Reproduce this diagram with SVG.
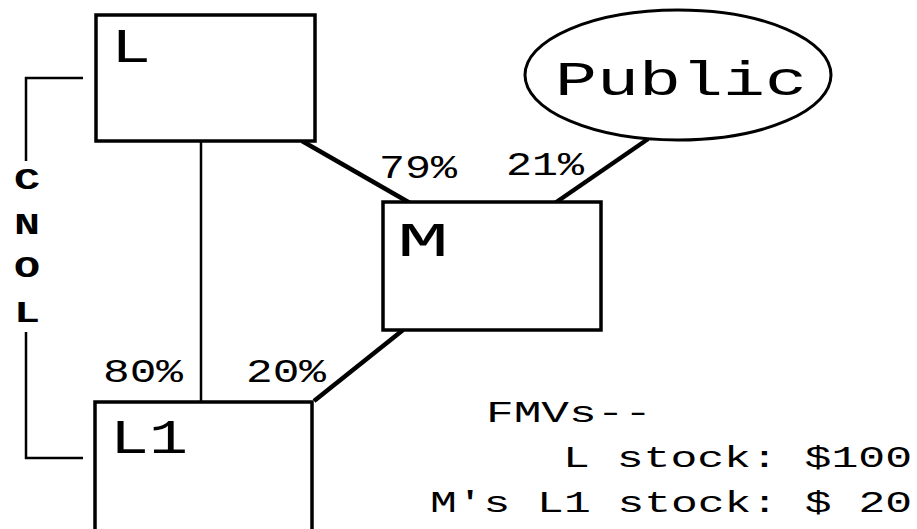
<svg xmlns="http://www.w3.org/2000/svg" width="917" height="529" viewBox="0 0 917 529">
<style>
.box{fill:#fff;stroke:#000;stroke-width:3.5}
.thick{stroke:#000;stroke-width:4.5;fill:none}
.thin{stroke:#000;stroke-width:2.5;fill:none}
.lbl{font-family:"Liberation Mono","DejaVu Sans Mono",monospace;fill:#000}
.big{font-size:48px}
.pct{font-size:33px}
.fmv{font-size:29px}
.side{font-size:30px;font-weight:bold}
</style>
<rect width="917" height="529" fill="#fff"/>
<g id="connectors">
<line class="thin" x1="201" y1="141" x2="201" y2="402"/>
<line class="thick" x1="302" y1="141" x2="410" y2="203"/>
<line class="thick" x1="648" y1="139" x2="555" y2="203"/>
<line class="thick" x1="403" y1="330" x2="314" y2="401"/>
<path class="thin" d="M83 78 H26 V161"/>
<path class="thin" d="M26 332 V458 H83"/>
</g>
<g id="node-L">
<rect class="box" x="96" y="15" width="219" height="126"/>
<text class="lbl big" x="111" y="62" textLength="40" lengthAdjust="spacingAndGlyphs">L</text>
</g>
<g id="node-M">
<rect class="box" x="383" y="202" width="218" height="128"/>
<text class="lbl big" x="397" y="256" textLength="52" lengthAdjust="spacingAndGlyphs">M</text>
</g>
<g id="node-L1">
<rect class="box" x="95" y="402" width="217" height="140"/>
<text class="lbl big" x="110" y="453" textLength="78" lengthAdjust="spacingAndGlyphs">L1</text>
</g>
<g id="node-Public">
<ellipse class="box" cx="678" cy="75" rx="153" ry="65" style="stroke-width:3"/>
<text class="lbl big" x="555" y="95" textLength="252" lengthAdjust="spacingAndGlyphs">Public</text>
</g>
<g id="labels">
<text class="lbl pct" x="379" y="178" textLength="78" lengthAdjust="spacingAndGlyphs">79%</text>
<text class="lbl pct" x="506" y="175" textLength="78" lengthAdjust="spacingAndGlyphs">21%</text>
<text class="lbl pct" x="103" y="382" textLength="80" lengthAdjust="spacingAndGlyphs">80%</text>
<text class="lbl pct" x="246" y="382" textLength="80" lengthAdjust="spacingAndGlyphs">20%</text>
<text class="lbl side" x="14" y="189" textLength="26" lengthAdjust="spacingAndGlyphs">C</text>
<text class="lbl side" x="14" y="234" textLength="26" lengthAdjust="spacingAndGlyphs">N</text>
<text class="lbl side" x="14" y="277" textLength="26" lengthAdjust="spacingAndGlyphs">O</text>
<text class="lbl side" x="14" y="322" textLength="26" lengthAdjust="spacingAndGlyphs">L</text>
</g>
<g id="fmv-note">
<text class="lbl fmv" x="486" y="422" textLength="166" lengthAdjust="spacingAndGlyphs">FMVs--</text>
<text class="lbl fmv" x="563" y="467" textLength="349" lengthAdjust="spacingAndGlyphs">L stock: $100</text>
<text class="lbl fmv" x="430" y="512" textLength="482" lengthAdjust="spacingAndGlyphs">M's L1 stock: $ 20</text>
</g>
</svg>
